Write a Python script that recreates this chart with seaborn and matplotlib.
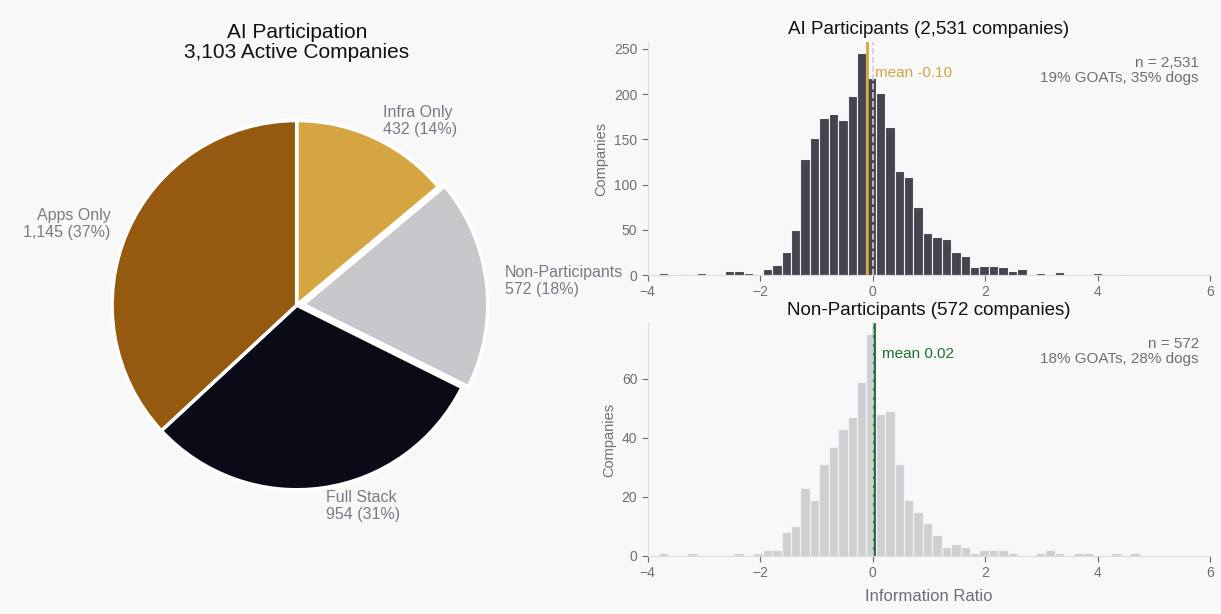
import numpy as np
import pandas as pd
import matplotlib
matplotlib.use("Agg")
import matplotlib.pyplot as plt
from matplotlib.ticker import MultipleLocator
import seaborn as sns

# pie: AI participation split
segments = ["Infra Only", "Non-Participants", "Full Stack", "Apps Only"]
segment_counts = [432, 572, 954, 1145]
segment_colors = ["#d4a541", "#c8c8cc", "#0b0b18", "#955a10"]

# histogram bins of information ratio (shared grid)
bin_start, bin_stop, n_bins = -3.80, 4.75, 51

ai_counts = [2, 0, 1, 0, 2, 0, 0, 4, 4, 2, 0, 7, 11, 26, 50, 128, 152, 174, 178, 171,
             198, 245, 218, 201, 164, 115, 108, 75, 46, 42, 40, 26, 21, 9, 10, 10, 9, 5, 7, 0,
             2, 0, 3, 0, 0, 0, 2, 0, 0, 1, 0]
non_counts = [1, 0, 0, 1, 0, 0, 0, 0, 1, 0, 1, 2, 2, 8, 10, 23, 19, 31, 37, 43,
              47, 59, 75, 48, 49, 31, 19, 15, 11, 7, 3, 4, 3, 1, 2, 2, 2, 1, 0, 0,
              1, 2, 1, 0, 1, 1, 0, 0, 1, 0, 1]

ai_mean, non_mean = -0.10, 0.02
ai_n, non_n = 2531, 572
ai_goats, ai_dogs = 19, 35
non_goats, non_dogs = 18, 28

BG = "#f8f8f8"
GREY = "#6e6e78"
sns.set_style("ticks")
plt.rcParams["font.family"] = ["Liberation Sans", "DejaVu Sans"]
plt.rcParams["axes.unicode_minus"] = True

fig = plt.figure(figsize=(12.21, 6.14), dpi=100, facecolor=BG)

# ---- pie ----
ax_pie = fig.add_axes([0.054, 0.127, 0.378, 0.752])
ax_pie.set_facecolor(BG)
total = sum(segment_counts)
pie_labels = [f"{s}\n{c:,} ({c / total:.0%})" for s, c in zip(segments, segment_counts)]
ax_pie.pie(segment_counts, labels=pie_labels, colors=segment_colors,
           startangle=90, counterclock=False, explode=[0, 0.035, 0, 0],
           wedgeprops=dict(edgecolor="white", linewidth=2.5),
           textprops=dict(color="#7a7a85", fontsize=11.5))
ax_pie.set_aspect("equal")
ax_pie.set_title(f"AI Participation\n{total:,} Active Companies", fontsize=15,
                 color="#111111", pad=12, linespacing=1.05)

# ---- histograms ----
edges = list(np.linspace(bin_start, bin_stop, n_bins + 1))
centers = [(a + b) / 2 for a, b in zip(edges[:-1], edges[1:])]

ax_top = fig.add_axes([0.5305, 0.552, 0.4605, 0.379])
ax_bot = fig.add_axes([0.5305, 0.0945, 0.4605, 0.379])

panels = [
    (ax_top, ai_counts, "#45454f", "#d4a53f", ai_mean, ai_n, ai_goats, ai_dogs,
     "AI Participants", 50),
    (ax_bot, non_counts, "#cfcfd3", "#1f6e36", non_mean, non_n, non_goats, non_dogs,
     "Non-Participants", 20),
]

for ax, counts, bar_c, mean_c, mean_v, n, goats, dogs, name, ystep in panels:
    ax.set_facecolor(BG)
    df = pd.DataFrame({"ir": centers, "count": counts})
    sns.histplot(data=df, x="ir", weights="count", bins=edges, ax=ax, color=bar_c,
                 edgecolor="#f4f4f4", linewidth=0.8, alpha=1)
    ax.axvline(mean_v, color=mean_c, lw=2, zorder=3)
    ax.axvline(0, color="#d0d0d4", lw=1.2, ls="--", zorder=4)
    ax.text(mean_v + 0.15, 0.87, f"mean {mean_v:.2f}", transform=ax.get_xaxis_transform(),
            color=mean_c, fontsize=11, va="center", ha="left")
    ax.text(0.98, 0.94, f"n = {n:,}\n{goats}% GOATs, {dogs}% dogs",
            transform=ax.transAxes, ha="right", va="top", color=GREY,
            fontsize=11, linespacing=1.1)
    ax.set_xlim(-4, 6)
    ax.yaxis.set_major_locator(MultipleLocator(ystep))
    ax.set_title(f"{name} ({n:,} companies)", fontsize=13.5, color="#111111", pad=6)
    ax.set_ylabel("Companies", color=GREY, fontsize=10.5)
    ax.set_xlabel("")
    sns.despine(ax=ax)
    for s in ["left", "bottom"]:
        ax.spines[s].set_color("#dcdcdc")
    ax.tick_params(colors="#666670", labelcolor=GREY, labelsize=10, length=4)

ax_bot.set_xlabel("Information Ratio", color=GREY, fontsize=12, labelpad=6)

fig.savefig("out.png", dpi=100, facecolor=BG)
